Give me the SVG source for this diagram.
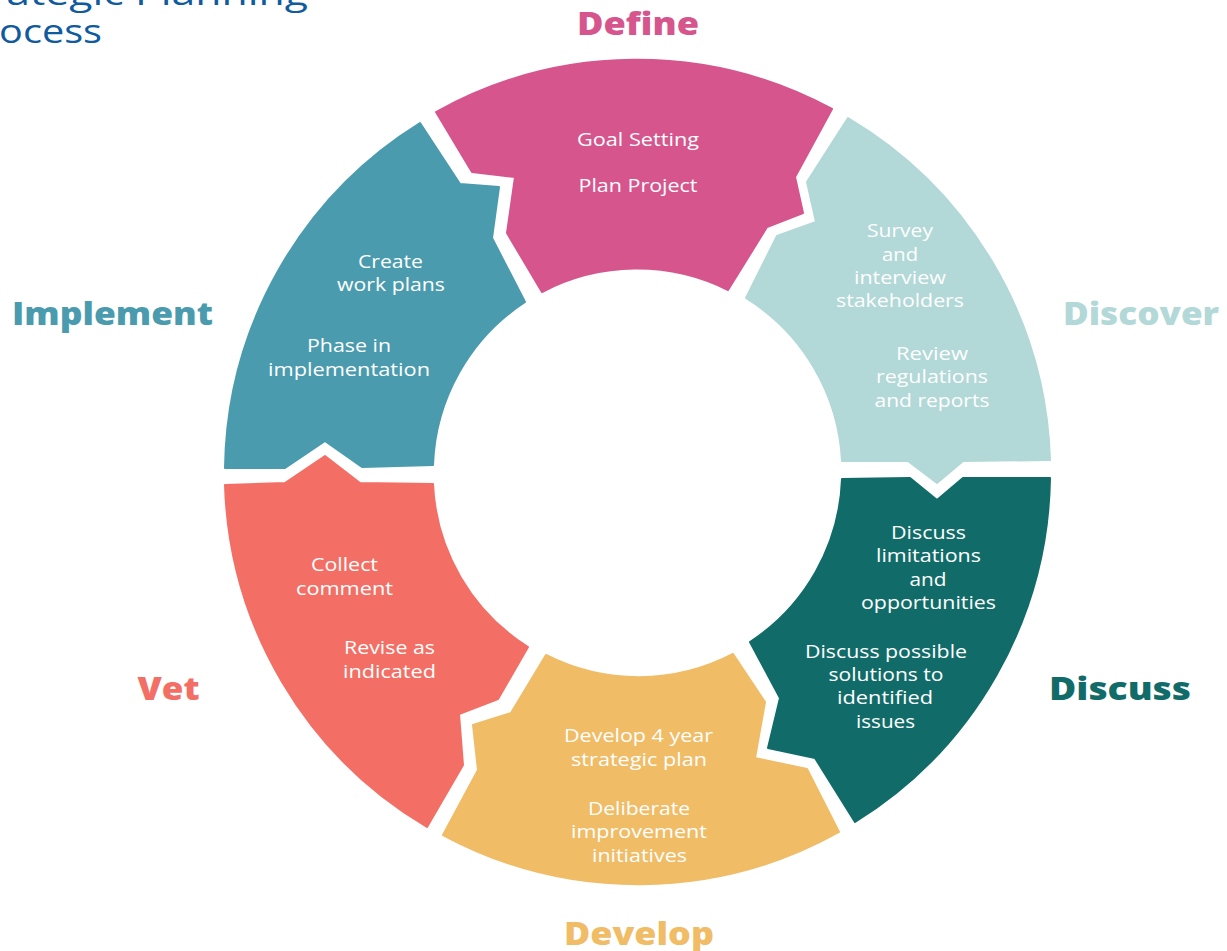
<svg xmlns="http://www.w3.org/2000/svg" width="1227" height="951" viewBox="0 0 1227 951">
  <style>
    .seg { stroke-width: 2; stroke-linejoin: round; }
    .body { font-family: "Open Sans", "Liberation Sans", sans-serif; font-size: 18px; fill: #ffffff; text-anchor: middle; }
    .label { font-family: "Open Sans", "Liberation Sans", sans-serif; font-size: 32px; font-weight: 800; text-anchor: middle; }
    .title { font-family: "Open Sans", "Liberation Sans", sans-serif; font-size: 32px; fill: #0F5B9E; }
  </style>
  <rect width="1227" height="951" fill="#ffffff"/>

  <!-- heading, partly outside the canvas -->
  <g id="title">
    <text class="title" x="-50" y="5" textLength="358" lengthAdjust="spacingAndGlyphs">Strategic Planning</text>
    <text class="title" x="-41" y="43" textLength="143" lengthAdjust="spacingAndGlyphs">Process</text>
  </g>

  <!-- ring segments, clockwise from the top -->
  <g id="define">
    <path class="seg" fill="#D6558D" stroke="#D6558D" d="M436,112 A412,412 0 0 1 832,109 L795,177 L803,213 L767,227 L728,290 A204,204 0 0 0 542,292 L507,233 L515,177 L472,172 Z"/>
    <text class="body" x="638" y="146" textLength="122" lengthAdjust="spacingAndGlyphs">Goal Setting</text>
    <text class="body" x="638" y="192" textLength="119" lengthAdjust="spacingAndGlyphs">Plan Project</text>
    <text class="label" x="638" y="35" fill="#D6558D" textLength="122" lengthAdjust="spacingAndGlyphs">Define</text>
  </g>

  <g id="discover">
    <path class="seg" fill="#B2D8D7" stroke="#B2D8D7" d="M848,118 A412,412 0 0 1 1050,460 L963,461 L937,483 L908,461 L842,461 A204,204 0 0 0 746,298 L777,236 L816,222 L807,182 Z"/>
    <text class="body" x="900" y="237" textLength="66" lengthAdjust="spacingAndGlyphs">Survey</text>
    <text class="body" x="900" y="261" textLength="36" lengthAdjust="spacingAndGlyphs">and</text>
    <text class="body" x="900" y="284" textLength="92" lengthAdjust="spacingAndGlyphs">interview</text>
    <text class="body" x="900" y="307" textLength="128" lengthAdjust="spacingAndGlyphs">stakeholders</text>
    <text class="body" x="932" y="360" textLength="72" lengthAdjust="spacingAndGlyphs">Review</text>
    <text class="body" x="932" y="383" textLength="112" lengthAdjust="spacingAndGlyphs">regulations</text>
    <text class="body" x="932" y="407" textLength="115" lengthAdjust="spacingAndGlyphs">and reports</text>
    <text class="label" x="1141" y="325" fill="#B2D8D7" textLength="156" lengthAdjust="spacingAndGlyphs">Discover</text>
  </g>

  <g id="discuss">
    <path class="seg" fill="#116C69" stroke="#116C69" d="M1050,478 A412,412 0 0 1 855,822 L815,758 L768,748 L780,698 L750,642 A204,204 0 0 0 842,479 L910,478 L937,500 L963,478 Z"/>
    <text class="body" x="928.5" y="539" textLength="75" lengthAdjust="spacingAndGlyphs">Discuss</text>
    <text class="body" x="928.5" y="562" textLength="105" lengthAdjust="spacingAndGlyphs">limitations</text>
    <text class="body" x="928" y="586" textLength="37" lengthAdjust="spacingAndGlyphs">and</text>
    <text class="body" x="928.5" y="609" textLength="135" lengthAdjust="spacingAndGlyphs">opportunities</text>
    <text class="body" x="886" y="658" textLength="162" lengthAdjust="spacingAndGlyphs">Discuss possible</text>
    <text class="body" x="886" y="681" textLength="115" lengthAdjust="spacingAndGlyphs">solutions to</text>
    <text class="body" x="885" y="704" textLength="96" lengthAdjust="spacingAndGlyphs">identified</text>
    <text class="body" x="885.5" y="728" textLength="59" lengthAdjust="spacingAndGlyphs">issues</text>
    <text class="label" x="1120" y="700" fill="#116C69" textLength="142" lengthAdjust="spacingAndGlyphs">Discuss</text>
  </g>

  <g id="develop">
    <path class="seg" fill="#F0BC66" stroke="#F0BC66" d="M839,832 A412,412 0 0 1 443,835 L478,770 L473,725 L511,713 L546,655 A204,204 0 0 0 733,654 L765,702 L755,758 L807,769 Z"/>
    <text class="body" x="638.5" y="742" textLength="149" lengthAdjust="spacingAndGlyphs">Develop 4 year</text>
    <text class="body" x="639" y="766" textLength="136" lengthAdjust="spacingAndGlyphs">strategic plan</text>
    <text class="body" x="639" y="815" textLength="102" lengthAdjust="spacingAndGlyphs">Deliberate</text>
    <text class="body" x="639" y="838" textLength="136" lengthAdjust="spacingAndGlyphs">improvement</text>
    <text class="body" x="639.5" y="862" textLength="95" lengthAdjust="spacingAndGlyphs">initiatives</text>
    <text class="label" x="639" y="945" fill="#F0BC66" textLength="150" lengthAdjust="spacingAndGlyphs">Develop</text>
  </g>

  <g id="vet">
    <path class="seg" fill="#F36F65" stroke="#F36F65" d="M427,827 A412,412 0 0 1 225,485 L285,483 L325,456 L360,483 L433,484 A204,204 0 0 0 528,647 L498,699 L459,714 L463,765 Z"/>
    <text class="body" x="344.5" y="571" textLength="67" lengthAdjust="spacingAndGlyphs">Collect</text>
    <text class="body" x="344.5" y="595" textLength="97" lengthAdjust="spacingAndGlyphs">comment</text>
    <text class="body" x="389.5" y="654" textLength="91" lengthAdjust="spacingAndGlyphs">Revise as</text>
    <text class="body" x="389.5" y="678" textLength="93" lengthAdjust="spacingAndGlyphs">indicated</text>
    <text class="label" x="168.5" y="700" fill="#F36F65" textLength="62" lengthAdjust="spacingAndGlyphs">Vet</text>
  </g>

  <g id="implement">
    <path class="seg" fill="#4A9BAE" stroke="#4A9BAE" d="M225,468 A412,412 0 0 1 420,123 L460,184 L499,187 L492,238 L525,302 A204,204 0 0 0 433,465 L362,467 L325,441 L285,468 Z"/>
    <text class="body" x="390.5" y="268" textLength="65" lengthAdjust="spacingAndGlyphs">Create</text>
    <text class="body" x="391" y="291" textLength="108" lengthAdjust="spacingAndGlyphs">work plans</text>
    <text class="body" x="349" y="352" textLength="84" lengthAdjust="spacingAndGlyphs">Phase in</text>
    <text class="body" x="349" y="376" textLength="162" lengthAdjust="spacingAndGlyphs">implementation</text>
    <text class="label" x="112.5" y="325" fill="#4A9BAE" textLength="201" lengthAdjust="spacingAndGlyphs">Implement</text>
  </g>
</svg>
